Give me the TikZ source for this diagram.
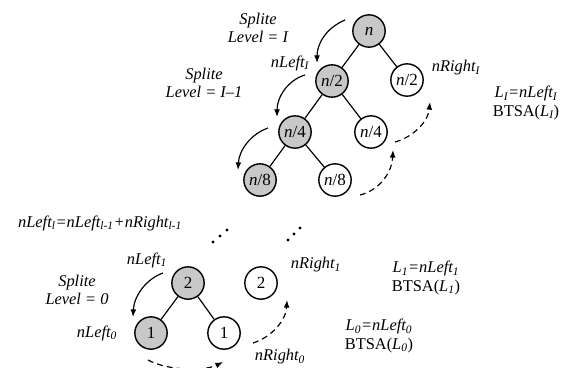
\documentclass[tikz,border=0pt]{standalone}
\usepackage{fontspec}
\setmainfont{Liberation Serif}
\usepackage{tikz}
\usetikzlibrary{calc,arrows.meta}

\definecolor{nodegray}{RGB}{200,200,200}
\newcommand{\sbi}[1]{\textsubscript{\textit{#1}}}

\tikzset{
	leaf/.style={circle, draw, line width=1.2pt, minimum size=0.97cm, inner sep=0pt, font=\fontsize{14.5}{16}\selectfont},
	grayleaf/.style={leaf, fill=nodegray},
	lbl/.style={font=\fontsize{14}{16}\selectfont\itshape, align=center, inner sep=0pt},
	branch/.style={line width=1pt},
	splitarrow/.style={line width=1pt, -{Latex[length=6.5pt,width=5pt]}},
	mergearrow/.style={line width=1pt, -{Latex[length=6.5pt,width=5pt]}, dash pattern=on 5pt off 3.5pt},
}

\begin{document}
\begin{tikzpicture}[x=0.03cm, y=-0.03cm]
		\useasboundingbox (0,0) rectangle (569,367);
		
		% upper tree
		\node[grayleaf] (n) at (369,31) {\textit{n}};
		\node[grayleaf] (nl) at (332,81) {\textit{n}/2};
		\node[leaf] (nr) at (407,80) {\textit{n}/2};
		\node[grayleaf] (nll) at (295,132) {\textit{n}/4};
		\node[leaf] (nlr) at (371,132) {\textit{n}/4};
		\node[grayleaf] (nlll) at (260,180) {\textit{n}/8};
		\node[leaf] (nllr) at (335,180) {\textit{n}/8};
		
		\draw[branch] (n) -- (nl);
		\draw[branch] (n) -- (nr);
		\draw[branch] (nl) -- (nll);
		\draw[branch] (nl) -- (nlr);
		\draw[branch] (nll) -- (nlll);
		\draw[branch] (nll) -- (nllr);
		
		% lower tree
		\node[grayleaf] (two) at (188,283) {2};
		\node[leaf] (tworight) at (261,283) {2};
		\node[grayleaf] (one) at (151,333) {1};
		\node[leaf] (oneright) at (224,333) {1};
		
		\draw[branch] (two) -- (one);
		\draw[branch] (two) -- (oneright);
		
		% split arrows
		\coordinate (s1a) at (345,20);
		\coordinate (s1b) at (317,63);
		\coordinate (s2a) at (305,75);
		\coordinate (s2b) at (277,117);
		\coordinate (s3a) at (268,128);
		\coordinate (s3b) at (238,170);
		\coordinate (s0a) at (163,273);
		\coordinate (s0b) at (133,317);
		\draw[splitarrow] (s1a) .. controls (326,28) and (317,44) .. (s1b);
		\draw[splitarrow] (s2a) .. controls (288,80) and (277,97) .. (s2b);
		\draw[splitarrow] (s3a) .. controls (251,134) and (239,150) .. (s3b);
		\draw[splitarrow] (s0a) .. controls (146,279) and (134,296) .. (s0b);
		
		% merge arrows
		\coordinate (m1a) at (360,195);
		\coordinate (m1b) at (393,150);
		\coordinate (m2a) at (395,142);
		\coordinate (m2b) at (430,102);
		\coordinate (m3a) at (253,343);
		\coordinate (m3b) at (287,300);
		\coordinate (m4a) at (148,360);
		\coordinate (m4b) at (223,362);
		\draw[mergearrow] (m1a) .. controls (380,190) and (392,172) .. (m1b);
		\draw[mergearrow] (m2a) .. controls (413,137) and (428,122) .. (m2b);
		\draw[mergearrow] (m3a) .. controls (272,337) and (286,320) .. (m3b);
		\draw[mergearrow] (m4a) .. controls (168,371) and (205,371) .. (m4b);
		
		% dots
		\foreach \dx/\dy in {213/242, 220/236, 227/230, 288/240, 294/234, 300/228}
			\fill (\dx,\dy) circle (1.7);
		
		% labels
		\node[lbl] (levI) at (258,28) {Splite\\Level = I};
		\node[lbl] (levIm) at (204,83) {Splite\\Level = I--1};
		\node[lbl] (leftI) at (290,63) {nLeft\sbi{I}};
		\node[lbl] (rightI) at (456,68) {nRight\sbi{I}};
		\node[lbl] (btsaI) at (526,103) {L\sbi{I}=nLeft\sbi{I}\\{\upshape BTSA(}L\sbi{I}{\upshape )}};
		\node[lbl] (sumrule) at (100,223) {nLeft\sbi{l}=nLeft\sbi{l-1}+nRight\sbi{l-1}};
		\node[lbl] (leftone) at (147,260) {nLeft\sbi{1}};
		\node[lbl] (levzero) at (77,290) {Splite\\Level = 0};
		\node[lbl] (leftzero) at (97,333) {nLeft\sbi{0}};
		\node[lbl] (rightone) at (316,265) {nRight\sbi{1}};
		\node[lbl] (btsaone) at (426,278) {L\sbi{1}=nLeft\sbi{1}\\{\upshape BTSA(}L\sbi{1}{\upshape )}};
		\node[lbl] (btsazero) at (379,336) {L\sbi{0}=nLeft\sbi{0}\\{\upshape BTSA(}L\sbi{0}{\upshape )}};
		\node[lbl] (rightzero) at (280,357) {nRight\sbi{0}};
	\end{tikzpicture}
\end{document}
